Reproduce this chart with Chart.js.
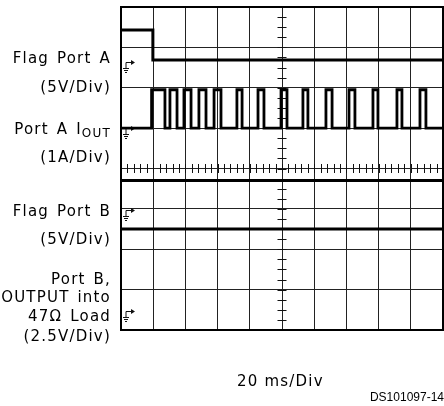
<!DOCTYPE html>
<html>
<head>
<meta charset="utf-8">
<script src="https://cdn.jsdelivr.net/npm/chart.js@4/dist/chart.umd.min.js"></script>
<style>
html,body{margin:0;padding:0;background:#fff;}
canvas{display:block;}
</style>
</head>
<body>
<canvas id="c" width="444" height="406"></canvas>
<script>
// ---- data (time in ms, level in divisions 0..8) ----
const timeTicks = [0,20,40,60,80,100,120,140,160,180,200];
const levelTicks = [0,1,2,3,4,5,6,7,8];

const flagATimes  = [0, 19.8, 200];
const flagALevels = [7.43, 6.69, 6.69];

const ioutLow  = 5.0;
const ioutHigh = 5.95;
const ioutRise = [19.0, 30.4, 39.1, 48.4, 57.8, 72.0, 85.1, 99.4, 113.0, 127.3, 141.6, 156.5, 171.4, 185.7];
const ioutFall = [27.3, 34.8, 43.5, 52.8, 62.1, 75.2, 88.8, 103.1, 116.1, 131.1, 145.3, 159.6, 174.5, 189.4];

const flagBTimes  = [0, 200];
const flagBLevels = [3.70, 3.70];

const portBTimes  = [0, 200];
const portBLevels = [2.50, 2.50];

const groundLevels = [6.64, 5.0, 2.98, 0.47];

const channelLabels = [
  ["Flag Port A", "(5V/Div)"],
  ["Port A I|OUT", "(1A/Div)"],
  ["Flag Port B", "(5V/Div)"],
  ["Port B,", "OUTPUT into", "47\u03A9 Load", "(2.5V/Div)"]
];
const timeLabel = "20 ms/Div";
const docLabel = "DS101097-14";

// ---- build series ----
function pts(ts, vs){ return ts.map((t,i)=>({x:t,y:vs[i]})); }
const ioutPts = [{x:0,y:ioutLow}];
ioutRise.forEach((r,i)=>{ ioutPts.push({x:r,y:ioutHigh}); ioutPts.push({x:ioutFall[i],y:ioutLow}); });
ioutPts.push({x:200,y:ioutLow});

// ---- layout (pixels) ----
const labelRight = 111;
const labelY = [[59,88],[130,158],[212,240],[280,298,317,337]];

const decor = {
  id:'decor',
  beforeDatasetsDraw(chart){
    const ctx = chart.ctx, xs = chart.scales.x, ys = chart.scales.y;
    const xc = xs.getPixelForValue(100), yc = ys.getPixelForValue(4);
    ctx.save();
    ctx.strokeStyle = '#111'; ctx.lineWidth = 1;
    ctx.beginPath();
    for (let v = 0; v <= 8.001; v += 0.25){
      const y = Math.round(ys.getPixelForValue(v)) + 0.5;
      ctx.moveTo(xc-4.5, y); ctx.lineTo(xc+4.5, y);
    }
    for (let t = 0; t <= 200.001; t += 4){
      const x = Math.round(xs.getPixelForValue(t)) + 0.5;
      ctx.moveTo(x, yc-4.5); ctx.lineTo(x, yc+4.5);
    }
    ctx.stroke();
    // ground markers
    const gx = xs.left + 5;
    groundLevels.forEach(v=>{
      const y = Math.round(ys.getPixelForValue(v)) + 0.5;
      ctx.beginPath();
      ctx.moveTo(gx, y+6); ctx.lineTo(gx, y);
      ctx.lineTo(gx+6, y);
      ctx.moveTo(gx-3, y+6); ctx.lineTo(gx+3, y+6);
      ctx.moveTo(gx-2, y+8); ctx.lineTo(gx+2, y+8);
      ctx.moveTo(gx-1, y+10); ctx.lineTo(gx+1, y+10);
      ctx.stroke();
      ctx.beginPath();
      ctx.moveTo(gx+9, y); ctx.lineTo(gx+5, y-2.5); ctx.lineTo(gx+5, y+2.5); ctx.closePath();
      ctx.fillStyle = '#111'; ctx.fill();
    });
    // frame
    const a = chart.chartArea;
    ctx.lineWidth = 2; ctx.strokeStyle = '#000';
    ctx.strokeRect(a.left, a.top, a.right-a.left, a.bottom-a.top);
    ctx.restore();
  },
  afterDraw(chart){
    const ctx = chart.ctx;
    ctx.save();
    ctx.fillStyle = '#000';
    ctx.textBaseline = 'middle';
    const font = '15px "DejaVu Sans"';
    const sub = '12px "DejaVu Sans"';
    try { ctx.letterSpacing = '1.2px'; ctx.wordSpacing = '2px'; } catch(e){}
    channelLabels.forEach((lines,i)=>{
      lines.forEach((txt,j)=>{
        const y = labelY[i][j];
        if (txt.includes('|')){
          const [main, s] = txt.split('|');
          ctx.font = sub; ctx.textAlign = 'right';
          const sw = ctx.measureText(s).width;
          ctx.fillText(s, labelRight, y+4);
          ctx.font = font;
          ctx.fillText(main, labelRight - sw, y);
        } else {
          ctx.font = font; ctx.textAlign = 'right';
          ctx.fillText(txt, labelRight, y);
        }
      });
    });
    try { ctx.wordSpacing = '0px'; } catch(e){}
    ctx.font = font; ctx.textAlign = 'left';
    ctx.fillText(timeLabel, 237, 382);
    try { ctx.letterSpacing = '0px'; } catch(e){}
    ctx.font = '12px "Liberation Sans"'; ctx.textAlign = 'right';
    ctx.fillText(docLabel, 444, 398);
    ctx.restore();
  }
};

const common = {stepped:'before', borderColor:'#000', borderWidth:3, pointRadius:0, fill:false, tension:0};
new Chart(document.getElementById('c'), {
  type:'line',
  data:{datasets:[
    Object.assign({label:'Flag Port A', data:pts(flagATimes, flagALevels)}, common),
    Object.assign({label:'Port A IOUT', data:ioutPts}, common, {borderWidth:2.8}),
    Object.assign({label:'Flag Port B', data:pts(flagBTimes, flagBLevels)}, common),
    Object.assign({label:'Port B', data:pts(portBTimes, portBLevels)}, common)
  ]},
  options:{
    responsive:false, animation:false, devicePixelRatio:1,
    layout:{padding:{left:121, right:1, top:7, bottom:76}},
    plugins:{legend:{display:false}, tooltip:{enabled:false}},
    scales:{
      x:{type:'linear', min:0, max:200,
         afterBuildTicks(s){ s.ticks = timeTicks.map(v=>({value:v})); },
         ticks:{display:false, padding:0},
         grid:{color:'#222', lineWidth:1, drawTicks:false, tickLength:0},
         border:{display:false}},
      y:{type:'linear', min:0, max:8,
         afterBuildTicks(s){ s.ticks = levelTicks.map(v=>({value:v})); },
         ticks:{display:false, padding:0},
         grid:{color:'#222', lineWidth:1, drawTicks:false, tickLength:0},
         border:{display:false}}
    }
  },
  plugins:[decor]
});
</script>
</body>
</html>
